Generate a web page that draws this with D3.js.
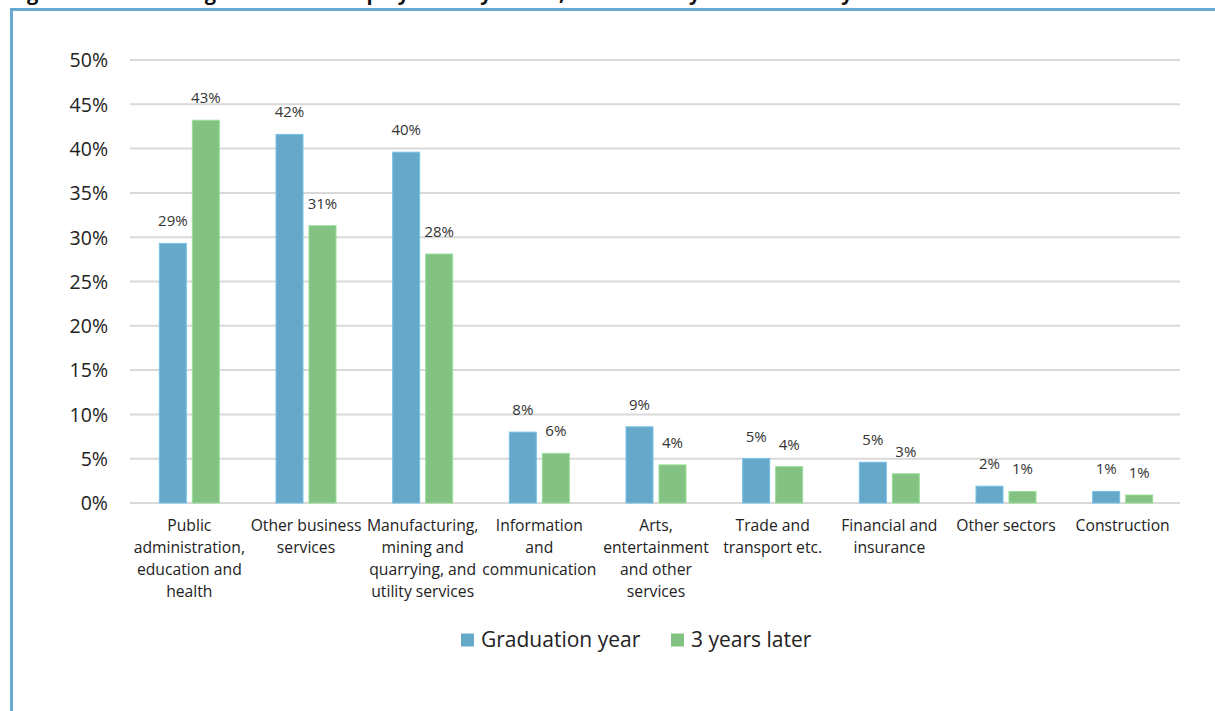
<!DOCTYPE html>
<html>
<head>
<meta charset="utf-8">
<script src="https://cdn.jsdelivr.net/npm/d3@7"></script>
<style>
  html, body { margin: 0; padding: 0; background: #fff; }
  svg { display: block; font-family: "Open Sans", "Noto Sans", sans-serif; }
</style>
</head>
<body>
<svg id="chart" width="1215" height="711"></svg>
<script>
// Sectors (label lines as wrapped under the axis)
const categories = [
  ["Public", "administration,", "education and", "health"],
  ["Other business", "services"],
  ["Manufacturing,", "mining and", "quarrying, and", "utility services"],
  ["Information", "and", "communication"],
  ["Arts,", "entertainment", "and other", "services"],
  ["Trade and", "transport etc."],
  ["Financial and", "insurance"],
  ["Other sectors"],
  ["Construction"]
];
const seriesNames = ["Graduation year", "3 years later"];
const graduationYear = [0.293, 0.416, 0.396, 0.080, 0.086, 0.050, 0.046, 0.019, 0.013];
const threeYearsLater = [0.432, 0.313, 0.281, 0.056, 0.043, 0.041, 0.033, 0.013, 0.009];
const yTicks = [0, 0.05, 0.10, 0.15, 0.20, 0.25, 0.30, 0.35, 0.40, 0.45, 0.50];
const colors = ["#66a8c9", "#84c283"];

const svg = d3.select("#chart");

// Page heading (runs off the top of the frame)
svg.append("text")
  .attr("x", 10).attr("y", 0)
  .attr("font-size", 20).attr("font-weight", 700).attr("fill", "#111")
  .text("Figure 3.4: Share of graduates in employment by sector, Graduation year and three years later");

// Outer frame
svg.append("rect")
  .attr("x", 11.5).attr("y", 9.5).attr("width", 1240).attr("height", 760)
  .attr("fill", "none").attr("stroke", "#6aa9cf").attr("stroke-width", 3);

const plot = { left: 130, right: 1180, top: 60, bottom: 503 };

const x = d3.scaleBand()
  .domain(d3.range(categories.length))
  .range([plot.left, plot.right])
  .paddingInner(0).paddingOuter(0);

const y = d3.scaleLinear().domain([0, 0.5]).range([plot.bottom, plot.top]);

const barW = 27, gap = 6;
const sub = d3.scaleOrdinal().domain([0, 1])
  .range([-(barW + gap / 2) + 1, gap / 2 + 1]);

// Gridlines
svg.append("g")
  .selectAll("line").data(yTicks).join("line")
  .attr("x1", plot.left).attr("x2", plot.right)
  .attr("y1", d => y(d)).attr("y2", d => y(d))
  .attr("stroke", "#d9d9d9").attr("stroke-width", 2);

// Y axis labels
const yAxis = d3.axisLeft(y).tickValues(yTicks).tickFormat(d3.format(".0%")).tickSize(0).tickPadding(0);
const yg = svg.append("g").attr("transform", `translate(108,0)`).call(yAxis);
yg.select(".domain").remove();
yg.selectAll("text").attr("font-size", 19.5).attr("fill", "#222")
  .attr("font-family", "'Open Sans', sans-serif").attr("dy", "0.35em");

// Bars
const rows = categories.map((c, i) => [graduationYear[i], threeYearsLater[i]]);
const groups = svg.append("g").selectAll("g").data(rows).join("g")
  .attr("transform", (d, i) => `translate(${x(i) + x.bandwidth() / 2},0)`);

groups.selectAll("rect").data(d => d.map((v, s) => ({ v, s }))).join("rect")
  .attr("x", d => sub(d.s))
  .attr("width", barW)
  .attr("y", d => y(d.v))
  .attr("height", d => y(0) - y(d.v))
  .attr("fill", d => colors[d.s])
  .attr("stroke", d => d3.color(colors[d.s]).brighter(0.4))
  .attr("stroke-width", 1);

// Value labels
const fmt = d3.format(".0%");
groups.selectAll("text").data(d => d.map((v, s) => ({ v, s }))).join("text")
  .attr("x", d => sub(d.s) + barW / 2)
  .attr("y", d => y(d.v) - 17)
  .attr("text-anchor", "middle")
  .attr("font-size", 15).attr("fill", "#333")
  .text(d => fmt(d.v));

// Category labels
const xl = svg.append("g").selectAll("text").data(categories).join("text")
  .attr("x", (d, i) => x(i) + x.bandwidth() / 2 + 1)
  .attr("y", 531)
  .attr("text-anchor", "middle")
  .attr("font-size", 15.7).attr("fill", "#222");
xl.selectAll("tspan").data(d => d).join("tspan")
  .attr("x", function () { return d3.select(this.parentNode).attr("x"); })
  .attr("dy", (d, j) => j === 0 ? 0 : 22)
  .text(d => d);

// Legend
const legend = svg.append("g").attr("transform", "translate(461,640)");
const legX = [0, 210];
seriesNames.forEach((name, s) => {
  const g = legend.append("g").attr("transform", `translate(${legX[s]},0)`);
  g.append("rect").attr("x", 0).attr("y", -6.5).attr("width", 13).attr("height", 13).attr("fill", colors[s]);
  g.append("text").attr("x", 20).attr("y", 0).attr("dy", "0.35em")
    .attr("font-size", 21).attr("fill", "#222").text(name);
});
</script>
</body>
</html>
